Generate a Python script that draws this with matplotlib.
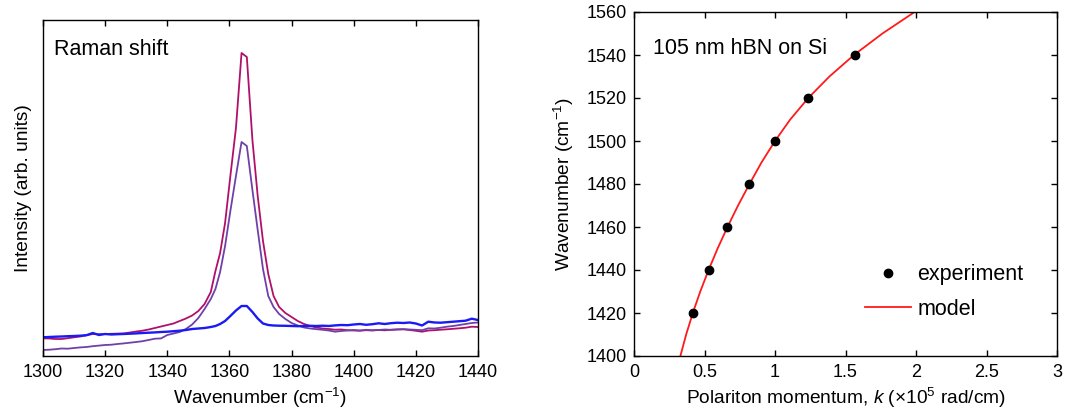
import matplotlib
matplotlib.use("Agg")
import matplotlib.pyplot as plt

plt.rcParams['font.family'] = ['Liberation Sans', 'DejaVu Sans']
plt.rcParams['mathtext.fontset'] = 'custom'
plt.rcParams['mathtext.rm'] = 'Liberation Sans'
plt.rcParams['mathtext.it'] = 'Liberation Sans:italic'
plt.rcParams['mathtext.bf'] = 'Liberation Sans:bold'

# ---- Raman spectra (arbitrary intensity units) ----
wavenumber = [
    1300, 1302, 1304, 1306, 1308, 1310, 1312, 1314, 1316, 1318, 1320, 1322, 1324,
    1326, 1328, 1330, 1332, 1334, 1336, 1338, 1340, 1342, 1344, 1346, 1348,
    1350, 1352, 1354, 1355.5, 1357, 1358.6, 1360.3, 1362.1, 1363.9, 1365.6,
    1367.4, 1369.1, 1370.8, 1372.5, 1374.2, 1376,
    1378, 1380, 1382, 1384, 1386, 1388, 1390, 1392, 1394, 1396, 1398, 1400,
    1402, 1404, 1406, 1408, 1410, 1412, 1414, 1416, 1418, 1420, 1422, 1424,
    1426, 1428, 1430, 1432, 1434, 1436, 1438, 1440,
]
raman_red = [
    17.7, 17.5, 17.0, 17.0, 17.8, 18.7, 19.5, 20.8, 22.0, 21.8, 22.0, 22.2, 22.4,
    22.6, 23.5, 24.5, 25.3, 26.5, 28.0, 29.5, 31.0, 32.5, 35.0, 37.5, 40.5,
    45, 52, 64, 85, 103, 133, 180, 228, 303, 299,
    216, 160, 115, 82, 60, 49,
    43, 39, 35, 32, 30, 28.5, 27.5, 27.0, 26.3, 26.5, 25.8, 25.5,
    25.3, 25.8, 25.5, 26.0, 25.7, 26.2, 26.5, 26.7, 26.0, 25.2, 24.3, 25.5,
    25.8, 26.3, 26.7, 27.2, 27.7, 28.3, 29.3, 29.0,
]
raman_purple = [
    6.0, 6.3, 6.8, 7.5, 7.3, 8.0, 8.6, 9.0, 9.8, 10.4, 11.0, 11.3, 12.0,
    12.6, 13.3, 14.0, 14.8, 16.0, 17.3, 17.6, 21.0, 22.5, 24.0, 27.0, 31.5,
    38, 47, 57, 67, 84, 110, 145, 180, 214, 210,
    166, 126, 87, 60, 49, 42,
    37, 33, 30.5, 28.5, 27.5, 26.8, 26.2, 25.5, 24.3, 25.0, 25.5, 26.0,
    25.5, 26.2, 25.8, 26.0, 26.5, 26.2, 26.6, 26.8, 26.5, 26.2, 25.8, 27.7,
    27.5, 28.3, 29.3, 30.0, 31.0, 32.0, 33.0, 33.5,
]
raman_blue = [
    18.7, 19.0, 19.3, 19.5, 19.8, 20.0, 20.3, 20.8, 23.0, 21.0, 22.0, 21.5, 21.8,
    22.0, 22.3, 22.6, 23.0, 23.3, 23.6, 24.0, 24.3, 24.8, 25.3, 26.0, 27.0,
    27.5, 28.0, 29.0, 30.0, 32.0, 35.0, 40.0, 45.5, 50.0, 50.0,
    44.0, 37.5, 32.5, 31.0, 30.5, 30.3,
    30.2, 30.0, 29.8, 30.0, 30.2, 30.0, 30.3, 30.0, 30.6, 31.0, 30.8, 31.5,
    32.0, 31.2, 31.8, 32.7, 32.0, 32.8, 33.3, 33.0, 33.5, 32.5, 30.5, 34.3,
    33.5, 33.3, 33.8, 34.3, 34.8, 35.3, 37.3, 36.0,
]
raman_xticks = [1300, 1320, 1340, 1360, 1380, 1400, 1420, 1440]

# ---- Polariton dispersion ----
k_exp = [0.416, 0.534, 0.662, 0.816, 1.0, 1.234, 1.57]
w_exp = [1420, 1440, 1460, 1480, 1500, 1520, 1540]
k_model = [0.329, 0.370, 0.417, 0.470, 0.529, 0.593, 0.663, 0.738, 0.819,
           0.904, 1.000, 1.108, 1.236, 1.386, 1.560, 1.762, 1.990]
w_model = [1400, 1410, 1420, 1430, 1440, 1450, 1460, 1470, 1480,
           1490, 1500, 1510, 1520, 1530, 1540, 1550, 1560]
disp_xticks = [0, 0.5, 1, 1.5, 2, 2.5, 3]
disp_xticklabels = ['0', '0.5', '1', '1.5', '2', '2.5', '3']
disp_yticks = [1400, 1420, 1440, 1460, 1480, 1500, 1520, 1540, 1560]

TICK_FS = 13
LABEL_FS = 13.8
NOTE_FS = 15.5

fig = plt.figure(figsize=(10.75, 4.12), dpi=100)

# Left panel: Raman spectra
ax1 = fig.add_axes([43 / 1075, 56 / 412, 435 / 1075, 336 / 412])
ax1.plot(wavenumber, raman_red, color='#B0106A', lw=1.3)
ax1.plot(wavenumber, raman_purple, color='#7040A8', lw=1.3)
ax1.plot(wavenumber, raman_blue, color='#1A1AF5', lw=1.7)
ax1.set_xlim(1300, 1440)
ax1.set_ylim(0, 336)
ax1.set_xticks(raman_xticks)
ax1.set_yticks([])
ax1.tick_params(axis='x', direction='in', top=True, length=4, width=1,
                labelsize=TICK_FS, pad=6)
ax1.set_xlabel(r'Wavenumber (cm$^{-1}$)', fontsize=LABEL_FS, labelpad=3)
ax1.set_ylabel('Intensity (arb. units)', fontsize=LABEL_FS, labelpad=8)
ax1.text(0.025, 0.896, 'Raman shift', transform=ax1.transAxes,
         fontsize=NOTE_FS, va='baseline', ha='left')
for s in ax1.spines.values():
    s.set_linewidth(1.0)

# Right panel: dispersion
ax2 = fig.add_axes([634 / 1075, 56 / 412, 423 / 1075, 344 / 412])
ax2.plot(k_model, w_model, color='#FF1A1A', lw=1.3, label='model', zorder=2)
ax2.plot(k_exp, w_exp, 'o', color='black', ms=6, label='experiment', zorder=3)
ax2.set_xlim(0, 3)
ax2.set_ylim(1400, 1560)
ax2.set_xticks(disp_xticks)
ax2.set_xticklabels(disp_xticklabels)
ax2.set_yticks(disp_yticks)
ax2.tick_params(direction='in', top=True, right=True, length=4, width=1,
                labelsize=TICK_FS)
ax2.tick_params(axis='x', pad=6)
ax2.tick_params(axis='y', pad=5)
ax2.set_xlabel(r'Polariton momentum, $k$ (×10$^{5}$ rad/cm)',
               fontsize=LABEL_FS, labelpad=3)
ax2.set_ylabel(r'Wavenumber (cm$^{-1}$)', fontsize=LABEL_FS, labelpad=8)
ax2.text(0.0457, 0.878, '105 nm hBN on Si', transform=ax2.transAxes,
         fontsize=NOTE_FS, va='baseline', ha='left')
handles, labels = ax2.get_legend_handles_labels()
ax2.legend(handles[::-1], labels[::-1], loc='center left',
           bbox_to_anchor=(0.546, 0.186), frameon=False, fontsize=NOTE_FS,
           handlelength=2.14, handletextpad=0.3, labelspacing=0.64,
           borderpad=0, borderaxespad=0)
for s in ax2.spines.values():
    s.set_linewidth(1.0)

fig.savefig('out.png', dpi=100)
